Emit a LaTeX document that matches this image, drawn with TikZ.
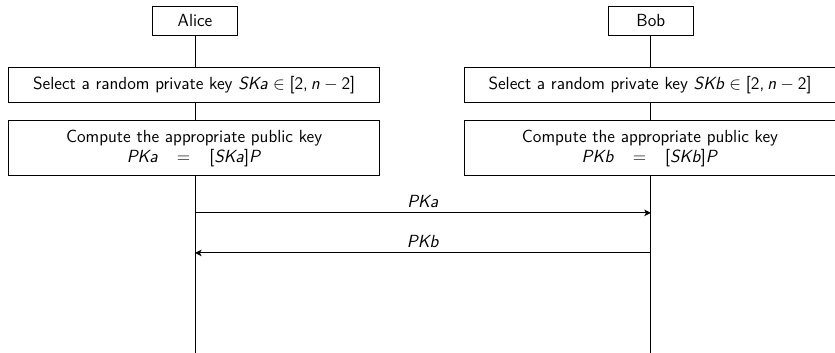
\documentclass[tikz,border=0pt]{standalone}
\usepackage{amsmath,amssymb}
\usepackage{tikz}
\usetikzlibrary{positioning,arrows.meta}
\SetSymbolFont{letters}{normal}{OT1}{cmss}{m}{sl}
\SetSymbolFont{operators}{normal}{OT1}{cmss}{m}{n}
\DeclareMathSymbol{,}{\mathpunct}{operators}{"2C}

\begin{document}
\begin{tikzpicture}[font=\sffamily\fontsize{12}{14}\selectfont,semithick,>={Stealth[length=4.5pt,width=4.5pt,inset=1.2pt]},
    party/.style={draw,minimum width=2.04cm,minimum height=0.7cm},
    stepbox/.style={draw,fill=white,minimum width=8.9cm,align=center}]
    \useasboundingbox (0,0) rectangle (20.04,-8.47);
    \node[party] (alice) at (4.68,-0.5) {Alice};
    \node[party] (bob) at (15.62,-0.5) {Bob};
    \node[stepbox,minimum height=0.84cm] (selA) at (4.66,-2.05) {Select a random private key $SKa \in [2,n-2]$};
    \node[stepbox,minimum height=0.84cm] (selB) at (15.6,-2.05) {Select a random private key $SKb \in [2,n-2]$};
    \node[stepbox,minimum height=1.32cm] (compA) at (4.66,-3.56) {Compute the appropriate public key\\ $PKa \hspace{0.8em} = \hspace{0.8em} [SKa]P$};
    \node[stepbox,minimum height=1.32cm] (compB) at (15.6,-3.56) {Compute the appropriate public key\\ $PKb \hspace{0.8em} = \hspace{0.8em} [SKb]P$};
    \coordinate (endA) at (4.68,-8.47);
    \coordinate (endB) at (15.62,-8.47);
    \draw (alice) -- (alice|-selA.north);
    \draw (bob) -- (bob|-selB.north);
    \draw (alice|-selA.south) -- (alice|-compA.north);
    \draw (bob|-selB.south) -- (bob|-compB.north);
    \draw (alice|-compA.south) -- (endA);
    \draw (bob|-compB.south) -- (endB);
    \coordinate (a1) at (4.68,-5.11);
    \coordinate (b1) at (15.62,-5.11);
    \coordinate (a2) at (4.68,-6.07);
    \coordinate (b2) at (15.62,-6.07);
    \draw[->] (a1) -- (b1) node[midway,above] {$PKa$};
    \draw[->] (b2) -- (a2) node[midway,above] {$PKb$};
\end{tikzpicture}
\end{document}
